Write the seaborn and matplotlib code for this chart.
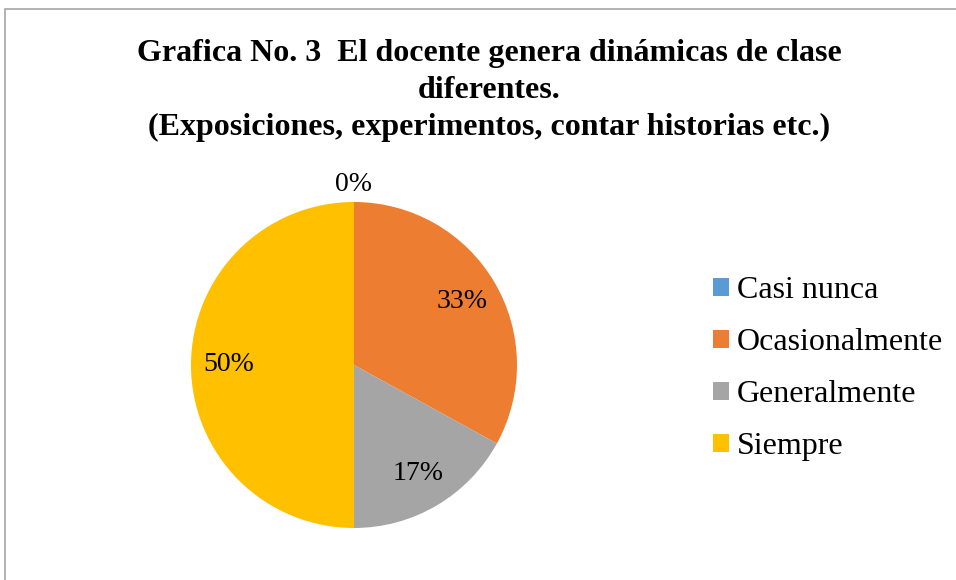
import seaborn as sns
import matplotlib.pyplot as plt
from matplotlib.patches import Rectangle, Patch
import numpy as np

# Survey answers (percent)
categories = ['Casi nunca', 'Ocasionalmente', 'Generalmente', 'Siempre']
values = [0, 33, 17, 50]
colors = ['#5B9BD5', '#ED7D31', '#A5A5A5', '#FFC000']

title = ('Grafica No. 3  El docente genera dinámicas de clase\n'
         'diferentes.\n'
         '(Exposiciones, experimentos, contar historias etc.)')

sns.set_theme(style='white')
plt.rcParams['font.family'] = ['Liberation Serif', 'DejaVu Serif']
plt.rcParams['text.color'] = 'black'

W, H = 956, 580
fig = plt.figure(figsize=(W / 100, H / 100), dpi=100)

# pie centre (354, 365) px from top-left, radius 163 px
cx, cy, r = 354, 365, 163
ax = fig.add_axes([(cx - r) / W, (H - cy - r) / H, 2 * r / W, 2 * r / H])
wedges, _ = ax.pie(values, colors=colors, startangle=90, counterclock=False,
                   radius=1, wedgeprops={'linewidth': 0})
ax.set_xlim(-1, 1)
ax.set_ylim(-1, 1)
ax.set_aspect('equal')
ax.axis('off')

for w, v in zip(wedges, values):
    mid = np.deg2rad((w.theta1 + w.theta2) / 2)
    dist = 0.77 if v > 0 else 1.11
    ax.text(dist * np.cos(mid), dist * np.sin(mid), f'{v}%',
            ha='center', va='center', fontsize=20, color='black', clip_on=False)

fig.text(489 / W, 1 - 39 / H, title, ha='center', va='top', fontsize=23,
         fontweight='bold', linespacing=1.37, color='black')

handles = [Patch(facecolor=c, edgecolor='none') for c in colors]
fig.legend(handles, categories, loc='upper left',
           bbox_to_anchor=(713 / W, 1 - 276 / H), frameon=False, fontsize=23,
           handlelength=0.5, handleheight=0.5, handletextpad=0.25,
           labelspacing=0.72, borderaxespad=0, borderpad=0, labelcolor='black')

# chart area border (left and top edges visible)
fig.add_artist(Rectangle((5 / W, -0.5), 2, 1.5 - 9 / H, transform=fig.transFigure,
                         fill=False, edgecolor='#A6A6A6', linewidth=1.2))

fig.savefig('out.png', dpi=100, facecolor='white')
